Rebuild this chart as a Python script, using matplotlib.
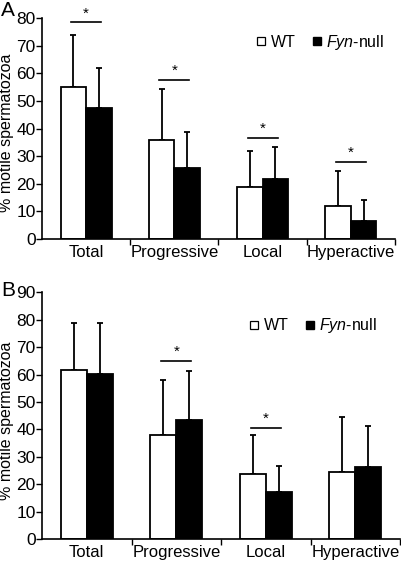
import matplotlib
matplotlib.use("Agg")
import matplotlib.pyplot as plt
from matplotlib.lines import Line2D
import numpy as np

plt.rcParams['font.family'] = ['Liberation Sans', 'DejaVu Sans']
plt.rcParams['mathtext.fontset'] = 'custom'
plt.rcParams['mathtext.rm'] = 'Liberation Sans'
plt.rcParams['mathtext.it'] = 'Liberation Sans:italic'

categories = ['Total', 'Progressive', 'Local', 'Hyperactive']

# panel A
wt_a = [55.0, 35.9, 19.0, 12.0]
wt_a_err = [19.0, 18.3, 12.9, 12.7]
null_a = [47.3, 25.8, 21.8, 6.5]
null_a_err = [14.5, 13.1, 11.4, 7.6]
sig_a = [0, 1, 2, 3]
sig_a_y = [78.4, 57.6, 36.6, 28.0]

# panel B
wt_b = [61.8, 38.1, 23.7, 24.3]
wt_b_err = [17.2, 20.0, 14.2, 20.3]
null_b = [60.1, 43.3, 17.0, 26.3]
null_b_err = [18.9, 18.1, 9.7, 15.0]
sig_b = [1, 2]
sig_b_y = [65.0, 40.6]

W = 0.29


def panel(ax, wt, wt_err, nul, nul_err, sig, sig_y, ymax, leg_xy):
    x = np.arange(len(categories))
    ax.bar(x - W / 2, wt, W, color='white', edgecolor='black', linewidth=1.3, zorder=2)
    ax.bar(x + W / 2, nul, W, color='black', edgecolor='black', linewidth=1.3, zorder=2)
    ax.errorbar(x - W / 2, wt, yerr=[np.zeros(len(wt)), wt_err], fmt='none',
                ecolor='black', elinewidth=1.3, capsize=2.5, capthick=1.3, zorder=1)
    ax.errorbar(x + W / 2, nul, yerr=[np.zeros(len(nul)), nul_err], fmt='none',
                ecolor='black', elinewidth=1.3, capsize=2.5, capthick=1.3, zorder=1)
    for i, yv in zip(sig, sig_y):
        ax.plot([i - 0.17, i + 0.17], [yv, yv], color='black', lw=1.2)
        ax.text(i, yv + 0.6, '*', ha='center', va='bottom', fontsize=11)
    ax.set_xlim(-0.5, 3.5)
    ax.set_ylim(0, ymax)
    ax.set_yticks(np.arange(0, ymax + 1, 10))
    ax.set_xticks(np.arange(0.5, 4.0, 1.0))
    ax.set_xticklabels([])
    ax.set_xticks(x, minor=True)
    ax.set_xticklabels(categories, minor=True)
    ax.tick_params(axis='x', which='minor', length=0, labelsize=12, pad=4)
    ax.tick_params(axis='x', which='major', length=4, width=1, direction='out')
    ax.tick_params(axis='y', length=4, width=1, labelsize=12.5, pad=0.5)
    ax.spines['top'].set_visible(False)
    ax.spines['right'].set_visible(False)
    ax.spines['left'].set_linewidth(1.2)
    ax.spines['bottom'].set_linewidth(1.2)
    ax.set_ylabel('% motile spermatozoa', fontsize=11.5)
    ax.yaxis.set_label_coords(-0.078, 0.48)
    handles = [Line2D([], [], ls='none', marker='s', markersize=5.5,
                      markerfacecolor='white', markeredgecolor='black', markeredgewidth=0.9),
               Line2D([], [], ls='none', marker='s', markersize=5.5,
                      markerfacecolor='black', markeredgecolor='black')]
    ax.legend(handles, ['WT', r'$\mathit{Fyn}$-null'], ncol=2, frameon=False,
              loc='center', bbox_to_anchor=leg_xy, fontsize=11.5,
              handlelength=0.6, handletextpad=0.3, columnspacing=1.0)


fig = plt.figure(figsize=(4.01, 5.63), dpi=100)
ax_a = fig.add_axes([0.1047, 0.5755, 0.880, 0.3925])
ax_b = fig.add_axes([0.1047, 0.0426, 0.893, 0.438])

panel(ax_a, wt_a, wt_a_err, null_a, null_a_err, sig_a, sig_a_y, 80, (0.789, 0.891))
panel(ax_b, wt_b, wt_b_err, null_b, null_b_err, sig_b, sig_b_y, 90, (0.758, 0.865))

fig.text(0.002, 0.999, 'A', fontsize=15, ha='left', va='top')
fig.text(0.002, 0.501, 'B', fontsize=15, ha='left', va='top')

fig.savefig('out.png', dpi=100)
